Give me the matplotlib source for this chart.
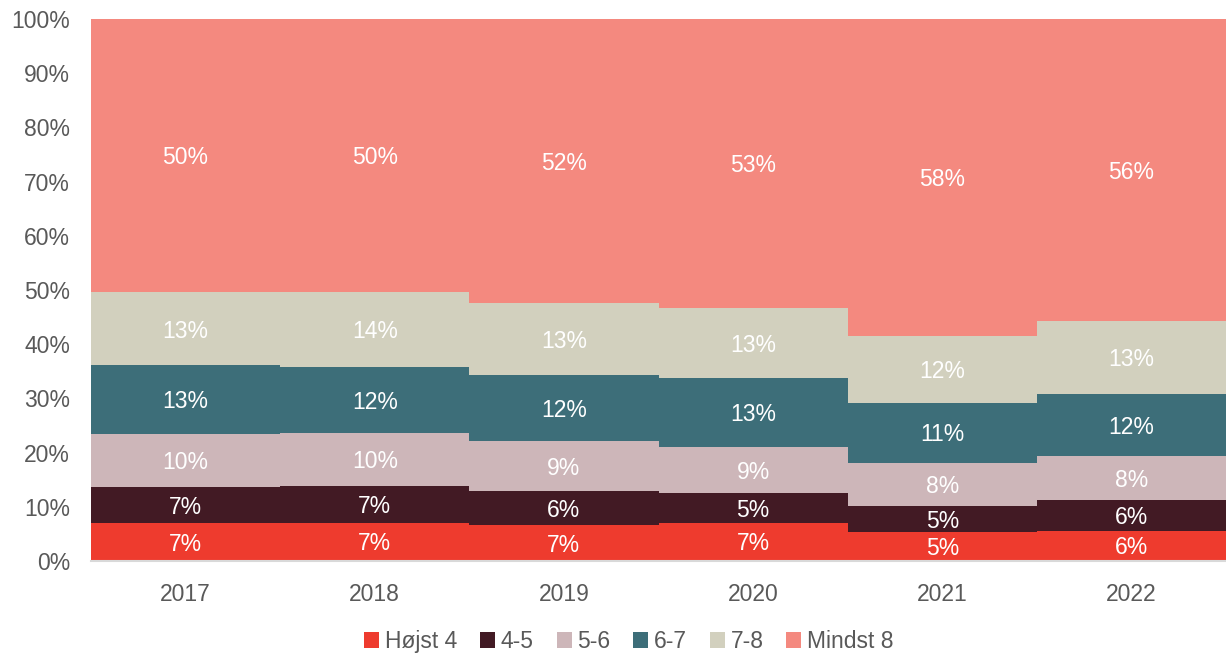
import matplotlib.pyplot as plt
import numpy as np

plt.rcParams['font.family'] = ['Liberation Sans', 'DejaVu Sans']

years = ['2017', '2018', '2019', '2020', '2021', '2022']
categories = ['Højst 4', '4-5', '5-6', '6-7', '7-8', 'Mindst 8']

# shares in percent
hojst4 = [7.0, 7.1, 6.6, 7.1, 5.3, 5.6]
c45 = [6.7, 6.8, 6.3, 5.4, 4.9, 5.6]
c56 = [9.7, 9.7, 9.2, 8.6, 7.9, 8.1]
c67 = [12.7, 12.2, 12.2, 12.6, 11.1, 11.6]
c78 = [13.45, 13.8, 13.3, 12.9, 12.4, 13.3]
mindst8 = [50.45, 50.4, 52.4, 53.4, 58.4, 55.8]

series = [hojst4, c45, c56, c67, c78, mindst8]
colors = ['#EE3B2E', '#421A24', '#CDB6B9', '#3D6E79', '#D2D0BE', '#F4897F']

fig = plt.figure(figsize=(12.26, 6.54), dpi=100)
ax = fig.add_axes([91 / 1226, 1 - 561 / 654, 1135 / 1226, 542 / 654])

x = np.arange(len(years))
bottom = np.zeros(len(years))
for vals, col, name in zip(series, colors, categories):
    vals = np.array(vals)
    ax.bar(x, vals, width=1.0, bottom=bottom, color=col, label=name,
           linewidth=0)
    for xi, b, v in zip(x, bottom, vals):
        ax.text(xi, b + v / 2 - 0.4, f'{round(v):.0f}%', ha='center',
                va='center', color='white', fontsize=16.5)
    bottom += vals

ax.set_xlim(-0.5, len(years) - 0.5)
ax.set_ylim(0, 100)
ax.set_yticks(np.arange(0, 101, 10))
ax.set_yticklabels([f'{v}%' for v in range(0, 101, 10)])
ax.set_xticks(x)
ax.set_xticklabels(years)
ax.tick_params(axis='both', length=0, labelsize=16.5, colors='#595959')
ax.tick_params(axis='y', pad=15)
ax.tick_params(axis='x', pad=16)
for s in ['top', 'right', 'left']:
    ax.spines[s].set_visible(False)
ax.spines['bottom'].set_color('#d9d9d9')
ax.spines['bottom'].set_linewidth(1.5)

leg = fig.legend(loc='lower center', bbox_to_anchor=(0.513, -0.03), ncol=6,
                 frameon=False, fontsize=16.5, handlelength=0.65,
                 handleheight=0.65, handletextpad=0.25, columnspacing=1.0)
for t in leg.get_texts():
    t.set_color('#595959')
for h in leg.legend_handles:
    h.set_linewidth(0)

fig.savefig('out.png', dpi=100)
